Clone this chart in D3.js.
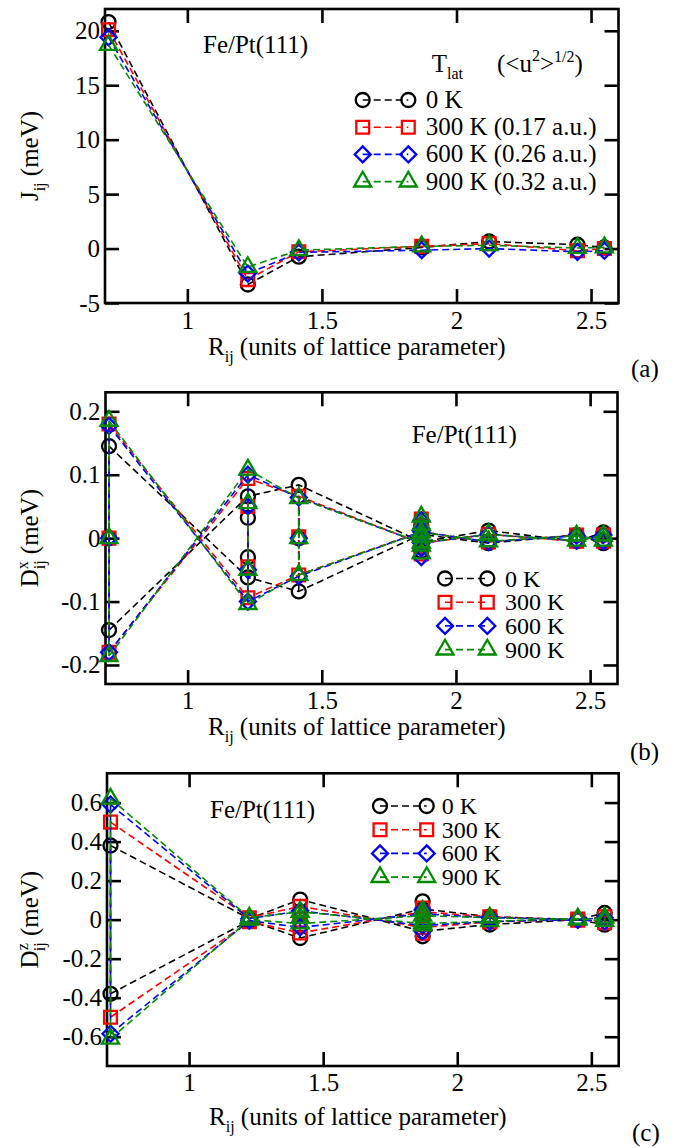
<!DOCTYPE html>
<html><head><meta charset="utf-8">
<script src="https://cdn.jsdelivr.net/npm/d3@7"></script>
<style>
html,body{margin:0;padding:0;background:#fff;}
svg{display:block;}
svg text, svg tspan { font-family: "Liberation Serif", "Times New Roman", Times, "DejaVu Serif", serif; }
</style></head><body>
<svg id="chart" width="684" height="1148"></svg>
<script>
// ---------- data ----------
const R = [0.7071, 1.2247, 1.4142, 1.8708, 2.1213, 2.4495, 2.5495]; // shell distances
const tempLabels = ["0 K", "300 K", "600 K", "900 K"];
const tempLabelsA = ["0 K", "300 K (0.17 a.u.)", "600 K (0.26 a.u.)", "900 K (0.32 a.u.)"];
const seriesColors = ["#000000", "#ff0000", "#0000ff", "#008b00"];
const seriesSymbols = ["circle", "square", "diamond", "triangle"];

const xTicks = [1, 1.5, 2, 2.5];
const xTickLabels = ["1", "1.5", "2", "2.5"];
const jTicks = [-5, 0, 5, 10, 15, 20];
const jTickLabels = ["-5", "0", "5", "10", "15", "20"];
const dxTicks = [-0.2, -0.1, 0, 0.1, 0.2];
const dxTickLabels = ["-0.2", "-0.1", "0", "0.1", "0.2"];
const dzTicks = [-0.6, -0.4, -0.2, 0, 0.2, 0.4, 0.6];
const dzTickLabels = ["-0.6", "-0.4", "-0.2", "0", "0.2", "0.4", "0.6"];

// (a) J_ij
const J_0K   = [20.8, -3.3, -0.75, 0.1, 0.65, 0.35, 0.1];
const J_300K = [20.1, -2.85, -0.3, 0.2, 0.45, -0.2, 0.0];
const J_600K = [19.4, -2.3, -0.35, -0.15, 0.0, -0.3, -0.2];
const J_900K = [18.7, -1.7, -0.15, 0.2, 0.3, 0.05, 0.1];

// (b) D^x_ij : two branches + extra points per shell
const DXa_0K   = [0.145, -0.062, -0.084, 0.006, -0.008, 0.005, -0.008];
const DXb_0K   = [-0.145, 0.066, 0.084, -0.006, 0.012, -0.005, 0.009];
const DXx_0K   = [[0], [0.032, -0.030], [0], [0.02, -0.02], [], [], []];
const DXa_300K = [0.180, -0.094, -0.058, 0.010, -0.006, 0.005, -0.005];
const DXb_300K = [-0.180, 0.094, 0.066, -0.008, 0.006, -0.005, 0.005];
const DXx_300K = [[0], [0.050, -0.045], [0.002], [0.030, 0.018, 0.004, -0.014, -0.025], [], [], []];
const DXa_600K = [0.177, -0.100, -0.060, 0.010, -0.006, 0.004, -0.005];
const DXb_600K = [-0.180, 0.100, 0.064, -0.008, 0.006, -0.004, 0.005];
const DXx_600K = [[0], [0.050, -0.050], [0], [0.028, 0.015, -0.016, -0.030], [], [], []];
const DXa_900K = [0.185, -0.104, -0.058, 0.009, -0.005, 0.004, -0.004];
const DXb_900K = [-0.186, 0.108, 0.063, -0.007, 0.006, -0.004, 0.004];
const DXx_900K = [[0], [0.055, -0.050], [0], [0.034, 0.021, 0.002, -0.012, -0.024], [], [], []];

// (c) D^z_ij
const DZa_0K   = [0.38, 0.005, 0.103, -0.060, -0.025, 0.0, -0.026];
const DZb_0K   = [-0.38, -0.005, -0.094, 0.055, 0.015, 0.0, 0.034];
const DZx_0K   = [[], [], [], [0.094, -0.085], [], [], []];
const DZa_300K = [0.50, 0.010, 0.068, -0.040, -0.012, 0.003, -0.015];
const DZb_300K = [-0.50, -0.010, -0.068, 0.040, 0.015, -0.003, 0.015];
const DZx_300K = [[], [], [0.03, -0.03], [0.060, 0.02, -0.025, -0.070], [], [], []];
const DZa_600K = [0.59, 0.005, 0.045, -0.030, -0.010, 0.0, -0.010];
const DZb_600K = [-0.585, -0.005, -0.040, 0.030, 0.010, 0.0, 0.010];
const DZx_600K = [[], [], [], [0.050, -0.060], [], [], []];
const DZa_900K = [0.62, 0.010, 0.040, -0.020, -0.008, 0.005, -0.006];
const DZb_900K = [-0.61, 0.0, -0.020, 0.020, 0.010, 0.0, 0.010];
const DZx_900K = [[], [], [0.01], [0.045, -0.008, -0.030], [], [], []];

const jSeries = [J_0K, J_300K, J_600K, J_900K];
const dxSeries = [
  {a: DXa_0K, b: DXb_0K, x: DXx_0K}, {a: DXa_300K, b: DXb_300K, x: DXx_300K},
  {a: DXa_600K, b: DXb_600K, x: DXx_600K}, {a: DXa_900K, b: DXb_900K, x: DXx_900K}];
const dzSeries = [
  {a: DZa_0K, b: DZb_0K, x: DZx_0K}, {a: DZa_300K, b: DZb_300K, x: DZx_300K},
  {a: DZa_600K, b: DZb_600K, x: DZx_600K}, {a: DZa_900K, b: DZb_900K, x: DZx_900K}];

// ---------- drawing ----------
const FONT = "Liberation Serif, Times New Roman, Times, DejaVu Serif, serif";
const FS = 25, SUB = 16;
const svg = d3.select("#chart").attr("font-family", FONT);
const xDomain = [0.694, 2.602];
const LW = 1.6, DASH = "7,4", SW = 2.3;

function symbolPath(type) {
  if (type === "circle") { const r = 7; return `M${r},0A${r},${r} 0 1,1 ${-r},0A${r},${r} 0 1,1 ${r},0Z`; }
  if (type === "square") { const h = 6.4; return `M${-h},${-h}H${h}V${h}H${-h}Z`; }
  if (type === "diamond") { const d = 8; return `M0,${-d}L${d},0L0,${d}L${-d},0Z`; }
  const s = 17, yy = s / (2 * Math.sqrt(3));
  return `M0,${-2 * yy}L${s / 2},${yy}L${-s / 2},${yy}Z`;
}
function drawSym(g, cx, cy, i) {
  g.append("path").attr("d", symbolPath(seriesSymbols[i]))
    .attr("transform", `translate(${cx},${cy})`)
    .attr("fill", "none").attr("stroke", seriesColors[i]).attr("stroke-width", SW);
}

function makePanel(cfg) {
  const g = svg.append("g");
  const x = d3.scaleLinear().domain(xDomain).range([cfg.left, cfg.right]);
  const y = d3.scaleLinear().domain(cfg.yDomain).range([cfg.bottom, cfg.top]);
  g.append("rect").attr("x", cfg.left).attr("y", cfg.top)
    .attr("width", cfg.right - cfg.left).attr("height", cfg.bottom - cfg.top)
    .attr("fill", "none").attr("stroke", "#000").attr("stroke-width", 2.6);
  const style = sel => {
    sel.select(".domain").remove();
    sel.selectAll(".tick line").attr("stroke", "#000").attr("stroke-width", 2.6);
    sel.selectAll(".tick text").attr("fill", "#000");
    sel.attr("font-size", FS).attr("font-family", FONT);
  };
  g.append("g").attr("transform", `translate(0,${cfg.bottom})`)
    .call(d3.axisBottom(x).tickValues(xTicks).tickFormat((d, i) => xTickLabels[i]).tickSize(-14).tickPadding(cfg.xPad)).call(style);
  g.append("g").attr("transform", `translate(0,${cfg.top})`)
    .call(d3.axisTop(x).tickValues(xTicks).tickFormat("").tickSize(-14)).call(style);
  g.append("g").attr("transform", `translate(${cfg.left},0)`)
    .call(d3.axisLeft(y).tickValues(cfg.yTicks).tickFormat((d, i) => cfg.yTickLabels[i]).tickSize(-14).tickPadding(5)).call(style);
  g.append("g").attr("transform", `translate(${cfg.right},0)`)
    .call(d3.axisRight(y).tickValues(cfg.yTicks).tickFormat("").tickSize(-14)).call(style);

  // x label
  const xl = g.append("text").attr("x", cfg.xlabX).attr("y", cfg.xlabY).attr("font-size", FS).attr("fill", "#000");
  xl.append("tspan").text("R");
  xl.append("tspan").attr("dy", 7).attr("font-size", SUB).text("ij");
  xl.append("tspan").attr("dy", -7).text(" (units of lattice parameter)");

  // y label
  const yl = g.append("text").attr("transform", `translate(${cfg.ylabX},${(cfg.top + cfg.bottom) / 2}) rotate(-90)`)
    .attr("text-anchor", "middle").attr("font-size", FS).attr("fill", "#000");
  yl.append("tspan").text(cfg.ySym);
  if (cfg.ySup) {
    yl.append("tspan").attr("dy", -10).attr("font-size", SUB).text(cfg.ySup);
    yl.append("tspan").attr("dx", -8).attr("dy", 17).attr("font-size", SUB).text("ij");
  } else {
    yl.append("tspan").attr("dy", 7).attr("font-size", SUB).text("ij");
  }
  yl.append("tspan").attr("dy", -7).text(" (meV)");

  // panel letter
  g.append("text").attr("x", cfg.letterX).attr("y", cfg.letterY).attr("font-size", FS).attr("fill", "#000").text(cfg.letter);
  // system label
  g.append("text").attr("x", cfg.sysX).attr("y", cfg.sysY).attr("font-size", FS).attr("fill", "#000").text("Fe/Pt(111)");

  const plot = g.append("g");
  return {g, plot, x, y};
}

function drawSimple(p, arrs) {
  const line = d3.line().x((d, k) => p.x(R[k])).y(d => p.y(d));
  arrs.forEach((arr, i) => {
    p.plot.append("path").attr("d", line(arr)).attr("fill", "none")
      .attr("stroke", seriesColors[i]).attr("stroke-width", LW).attr("stroke-dasharray", DASH);
    arr.forEach((v, k) => drawSym(p.plot, p.x(R[k]), p.y(v), i));
  });
}

function drawBranches(p, series) {
  const line = d3.line().x((d, k) => p.x(R[k])).y(d => p.y(d));
  series.forEach((s, i) => {
    const col = seriesColors[i];
    [s.a, s.b].forEach(arr => p.plot.append("path").attr("d", line(arr)).attr("fill", "none")
      .attr("stroke", col).attr("stroke-width", LW).attr("stroke-dasharray", DASH));
    R.forEach((r, k) => {
      const vals = [s.a[k], s.b[k], ...s.x[k]];
      p.plot.append("line").attr("x1", p.x(r)).attr("x2", p.x(r))
        .attr("y1", p.y(d3.max(vals))).attr("y2", p.y(d3.min(vals)))
        .attr("stroke", col).attr("stroke-width", LW).attr("stroke-dasharray", DASH);
    });
    R.forEach((r, k) => {
      [s.a[k], s.b[k], ...s.x[k]].forEach(v => drawSym(p.plot, p.x(r), p.y(v), i));
    });
  });
}

function drawLegend(g, cfg, labels) {
  labels.forEach((lab, i) => {
    const cy = cfg.y0 + i * cfg.dy;
    g.append("line").attr("x1", cfg.x1).attr("x2", cfg.x2).attr("y1", cy).attr("y2", cy)
      .attr("stroke", seriesColors[i]).attr("stroke-width", LW).attr("stroke-dasharray", DASH);
    drawSym(g, cfg.x1, cy, i);
    drawSym(g, cfg.x2, cy, i);
    g.append("text").attr("x", cfg.tx).attr("y", cy + 8).attr("font-size", cfg.fs || FS).attr("fill", "#000").text(lab);
  });
}

// Panel (a)
const pa = makePanel({left: 105, right: 618.5, top: 9, bottom: 303, yDomain: [-5, 22],
  yTicks: jTicks, yTickLabels: jTickLabels, xPad: 8, xlabX: 208, xlabY: 355, ylabX: 38,
  ySym: "J", letter: "(a)", letterX: 631, letterY: 377, sysX: 203, sysY: 53});
drawSimple(pa, jSeries);
drawLegend(pa.g, {x1: 362.7, x2: 408.3, tx: 425.7, y0: 100, dy: 27.2}, tempLabelsA);
{
  const t1 = pa.g.append("text").attr("x", 431.7).attr("y", 71.7).attr("font-size", FS).attr("fill", "#000");
  t1.append("tspan").text("T");
  t1.append("tspan").attr("dy", 7).attr("font-size", SUB).text("lat");
  const t2 = pa.g.append("text").attr("x", 497).attr("y", 71.7).attr("font-size", FS).attr("fill", "#000");
  t2.append("tspan").text("(<u");
  t2.append("tspan").attr("dy", -11).attr("font-size", SUB).text("2");
  t2.append("tspan").attr("dy", 11).text(">");
  t2.append("tspan").attr("dy", -10).attr("font-size", SUB).text("1/2");
  t2.append("tspan").attr("dy", 10).text(")");
}

// Panel (b)
const pb = makePanel({left: 105.5, right: 617.5, top: 392.3, bottom: 684, yDomain: [-0.23, 0.23],
  yTicks: dxTicks, yTickLabels: dxTickLabels, xPad: 7, xlabX: 208, xlabY: 735, ylabX: 38,
  ySym: "D", ySup: "x", letter: "(b)", letterX: 630, letterY: 760, sysX: 411.7, sysY: 443});
drawBranches(pb, dxSeries);
drawLegend(pb.g, {x1: 445, x2: 487.3, tx: 505, y0: 578.5, dy: 23.7, fs: 24}, tempLabels);

// Panel (c)
const pc = makePanel({left: 107, right: 618.7, top: 773.3, bottom: 1066, yDomain: [-0.75, 0.75],
  yTicks: dzTicks, yTickLabels: dzTickLabels, xPad: 7, xlabX: 209, xlabY: 1125, ylabX: 38,
  ySym: "D", ySup: "z", letter: "(c)", letterX: 632, letterY: 1141, sysX: 210, sysY: 818});
drawBranches(pc, dzSeries);
drawLegend(pc.g, {x1: 380, x2: 426.7, tx: 441.7, y0: 806, dy: 23.7, fs: 24}, tempLabels);
</script>
</body></html>
